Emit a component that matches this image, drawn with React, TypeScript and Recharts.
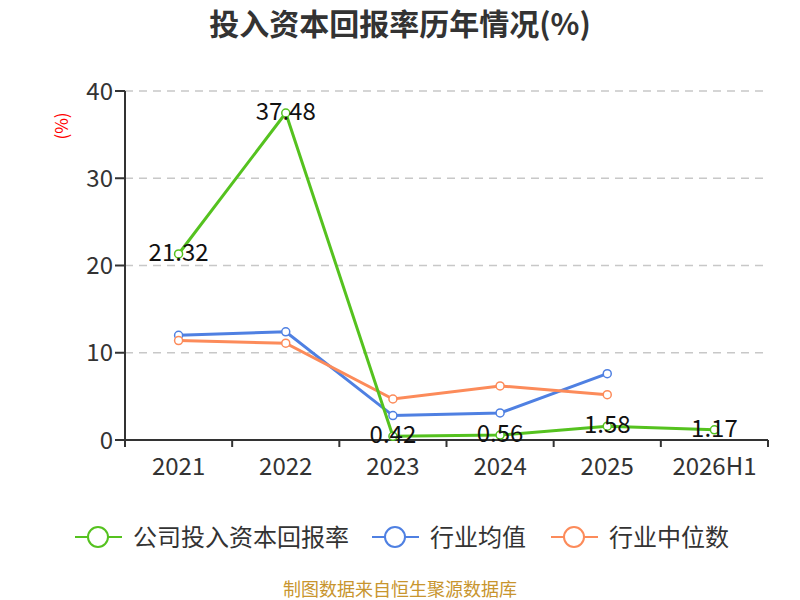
import React from "react";
import {
  LineChart,
  Line,
  XAxis,
  YAxis,
  CartesianGrid,
  LabelList,
} from "recharts";

const years = ["2021", "2022", "2023", "2024", "2025", "2026H1"];
const companyRoic = [21.32, 37.48, 0.42, 0.56, 1.58, 1.17];
const industryAvg = [12.0, 12.4, 2.8, 3.1, 7.6, null];
const industryMedian = [11.4, 11.1, 4.7, 6.2, 5.2, null];
const yTicks = [0, 10, 20, 30, 40];

const GREEN = "#55c21f";
const BLUE = "#4f80e2";
const ORANGE = "#fc8b5a";
const FONT = "'Noto Sans CJK SC', 'Noto Sans', sans-serif";

const data = years.map((y, i) => ({
  year: y,
  company: companyRoic[i],
  avg: industryAvg[i],
  median: industryMedian[i],
}));

const PLOT_LEFT = 125;
const PLOT_RIGHT = 768;
const BAND = (PLOT_RIGHT - PLOT_LEFT) / years.length;

const XTick = (props: any) => {
  const { x, y, payload, index } = props;
  return (
    <g>
      <line x1={x - BAND / 2} y1={y - 8} x2={x - BAND / 2} y2={y - 1} stroke="#333" strokeWidth={2} />
      {index === years.length - 1 && (
        <line x1={x + BAND / 2} y1={y - 8} x2={x + BAND / 2} y2={y - 1} stroke="#333" strokeWidth={2} />
      )}
      <text x={x} y={y + 27} textAnchor="middle" fill="#333" fontSize={24} fontFamily={FONT}>
        {payload.value}
      </text>
    </g>
  );
};

const ValueLabel = (props: any) => {
  const { x, y, value } = props;
  return (
    <text x={x} y={y + 7} textAnchor="middle" fill="#111" fontSize={24} fontFamily={FONT}>
      {value}
    </text>
  );
};

const legendItems = [
  { name: "公司投入资本回报率", color: GREEN },
  { name: "行业均值", color: BLUE },
  { name: "行业中位数", color: ORANGE },
];

export default function App() {
  return (
    <div style={{ position: "absolute", left: 0, top: 0, width: 800, height: 600, background: "#fff", fontFamily: FONT }}>
      <div style={{ position: "absolute", top: 2, width: 800, lineHeight: "40px", textAlign: "center", fontSize: 30, fontWeight: "bold", color: "#333" }}>
        投入资本回报率历年情况(%)
      </div>
      <LineChart
        width={800}
        height={600}
        data={data}
        margin={{ top: 91, right: 32, left: 65, bottom: 130 }}
      >
        <CartesianGrid vertical={false} stroke="#c8c8c8" strokeDasharray="8 6" strokeWidth={1.5} />
        <XAxis
          dataKey="year"
          scale="band"
          height={30}
          tickLine={false}
          axisLine={{ stroke: "#333", strokeWidth: 2 }}
          tick={<XTick />}
          interval={0}
        />
        <YAxis
          width={60}
          domain={[0, 40]}
          ticks={yTicks}
          axisLine={{ stroke: "#333", strokeWidth: 2 }}
          tickLine={{ stroke: "#333", strokeWidth: 2 }}
          tickSize={10}
          tick={{ fill: "#333", fontSize: 24, fontFamily: FONT }}
        />
        <Line
          dataKey="avg"
          stroke={BLUE}
          strokeWidth={3}
          dot={{ r: 4, fill: "#fff", stroke: BLUE, strokeWidth: 1.5 }}
          isAnimationActive={false}
        />
        <Line
          dataKey="median"
          stroke={ORANGE}
          strokeWidth={3}
          dot={{ r: 4, fill: "#fff", stroke: ORANGE, strokeWidth: 1.5 }}
          isAnimationActive={false}
        />
        <Line
          dataKey="company"
          stroke={GREEN}
          strokeWidth={3}
          dot={{ r: 4, fill: "#fff", stroke: GREEN, strokeWidth: 1.5 }}
          isAnimationActive={false}
        >
          <LabelList dataKey="company" content={<ValueLabel />} />
        </Line>
        <text
          x={68}
          y={126}
          fill="red"
          fontSize={17}
          fontFamily={FONT}
          textAnchor="middle"
          transform="rotate(-90 68 126)"
        >
          (%)
        </text>
      </LineChart>
      <svg style={{ position: "absolute", left: 0, top: 515 }} width={800} height={45}>
        {[75, 372, 551].map((lx, i) => (
          <g key={legendItems[i].name}>
            <line x1={lx} y1={22} x2={lx + 47} y2={22} stroke={legendItems[i].color} strokeWidth={2} />
            <circle cx={lx + 23} cy={22} r={10} fill="#fff" stroke={legendItems[i].color} strokeWidth={2} />
            <text x={lx + 58} y={31} fill="#333" fontSize={24} fontFamily={FONT}>
              {legendItems[i].name}
            </text>
          </g>
        ))}
      </svg>
      <div style={{ position: "absolute", top: 577, width: 800, lineHeight: "22px", textAlign: "center", fontSize: 18, color: "#c8952e" }}>
        制图数据来自恒生聚源数据库
      </div>
    </div>
  );
}
